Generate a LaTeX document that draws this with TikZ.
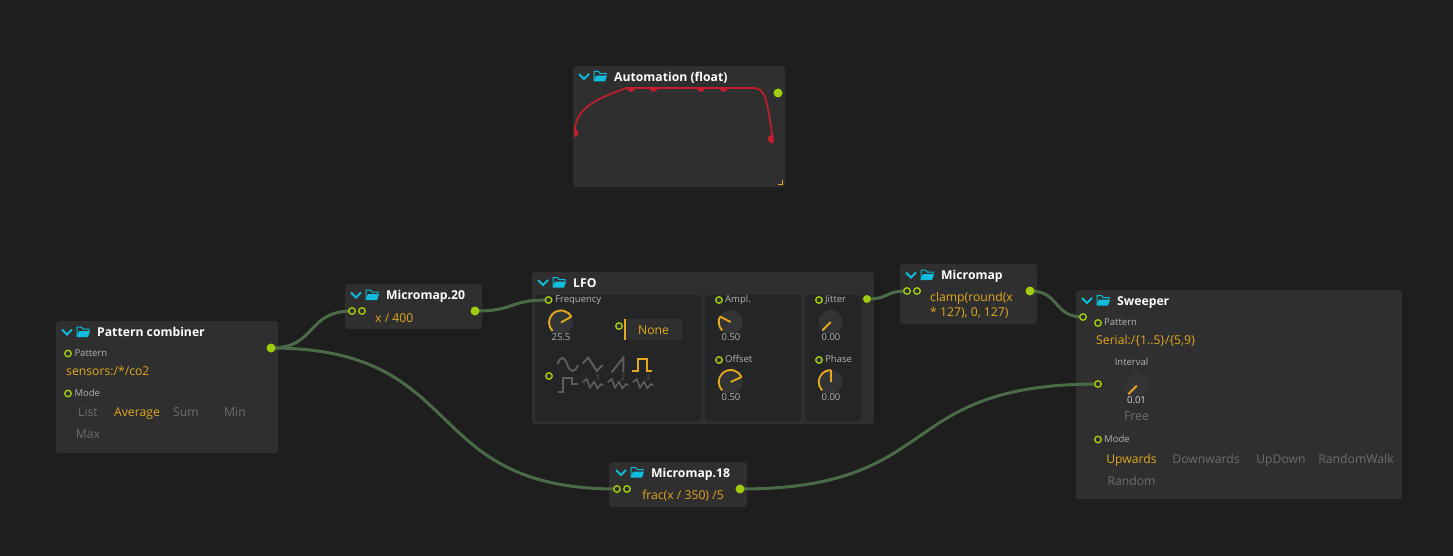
\documentclass[tikz,border=0pt]{standalone}
\usepackage{fontspec}
\setmainfont{Open Sans}
\usetikzlibrary{backgrounds}
\definecolor{canvas}{HTML}{1E1E1E}
\definecolor{panelc}{HTML}{2F2F2F}
\definecolor{subc}{HTML}{242526}
\definecolor{cyanc}{HTML}{12BCDC}
\definecolor{yelc}{HTML}{E3A81E}
\definecolor{portc}{HTML}{A0CC0E}
\definecolor{wirec}{HTML}{4B6B48}
\definecolor{greyc}{HTML}{6E6E6E}
\definecolor{lablc}{HTML}{B4B4B4}
\definecolor{iconc}{HTML}{5E5E5E}
\definecolor{knobc}{HTML}{333435}
\definecolor{redc}{HTML}{C41E2E}
\newcommand{\fsz}[1]{\fontsize{#1}{#1}\selectfont}
\tikzset{
  panel/.style={anchor=north west,fill=panelc,rounded corners=3pt,inner sep=0pt,draw=none},
  subpanel/.style={anchor=north west,fill=subc,rounded corners=3pt,inner sep=0pt,draw=none},
  inport/.style={circle,draw=portc,fill=panelc,line width=1.4pt,minimum size=6.5pt,inner sep=0pt},
  outport/.style={circle,fill=portc,minimum size=9pt,inner sep=0pt},
  wire/.style={draw=wirec,line width=3pt},
  ttl/.style={anchor=west,inner sep=0pt,text=white,font=\fsz{12.2}\bfseries,text height=9pt,text depth=3pt,yshift=-1.8pt},
  lbl/.style={anchor=west,inner sep=0pt,text=lablc,font=\fsz{9.5},text height=7pt,text depth=2pt,yshift=-1.2pt},
  val/.style={anchor=west,inner sep=0pt,text=yelc,font=\fsz{12.2},text height=9pt,text depth=3pt,yshift=-1.8pt},
  cval/.style={val,anchor=center},
  off/.style={cval,text=greyc},
  kval/.style={anchor=center,inner sep=0pt,text=lablc,font=\fsz{9.5},text height=7pt,text depth=2pt,yshift=-1pt},
  knobarc/.style={draw=yelc,line width=1.9pt},
  waveoff/.style={draw=iconc,line width=1.9pt},
  waveon/.style={draw=yelc,line width=1.9pt},
  small/.style={anchor=center,inner sep=0pt,text=iconc,font=\fsz{7.5}}
}
% header: left x, centre y, title, node name
\newcommand{\headbar}[4]{%
  \draw[cyanc,line width=1.9pt] (#1+6,#2-2.5) -- (#1+11,#2+2.5) -- (#1+16,#2-2.5);
  \draw[cyanc,line width=1pt] (#1+33,#2-1.5) -- (#1+33,#2-3) -- (#1+27,#2-3) -- (#1+25.5,#2-5) -- (#1+21,#2-5) -- (#1+21,#2+4);
  \fill[cyanc] (#1+23,#2-.8) -- (#1+34,#2-.8) -- (#1+32,#2+5) -- (#1+20.5,#2+5) -- cycle;
  \node[ttl] (#4) at (#1+41,#2) {#3};
}
% knob: centre x, centre y, end angle, name
\newcommand{\knobdial}[4]{%
  \node[circle,fill=knobc,minimum size=24pt,inner sep=0pt] (#4) at (#1,#2) {};
  \draw[knobarc] (#4.center) ++(-225:12) arc[start angle=-225,end angle=-#3,radius=12];
  \draw[knobarc] (#4.center) -- ++(-#3:12);
}
\newcommand{\zigzag}[1]{%
  \draw[waveoff,line width=1.6pt] (#1+582.7,382.3) -- (#1+586.7,379) -- (#1+590,387.7) -- (#1+594,381.7) -- (#1+597.3,388.3) -- (#1+601,384) -- (#1+603.3,385.5);
}
\begin{document}
\begin{tikzpicture}[x=1pt,y=-1pt]
\useasboundingbox (0,0) rectangle (1453,556);
% ports on main layer
\node[outport] (pcout) at (271,348) {};
\node[inport] (pcpat) at (68,353.5) {};
\node[inport] (pcmode) at (68,393.5) {};
\node[inport] (mta) at (352,311) {};
\node[inport] (mtb) at (362,311) {};
\node[outport] (mtout) at (475,311) {};
\node[inport] (lfreq) at (548.5,300) {};
\node[inport] (lnone) at (619,326) {};
\node[inport] (lwave) at (549,376) {};
\node[inport] (lampl) at (719,300) {};
\node[inport] (loffs) at (719,360) {};
\node[inport] (ljit) at (819,300) {};
\node[inport] (lphase) at (819,360) {};
\node[outport,minimum size=8pt] (lout) at (867,299) {};
\node[inport] (mma) at (907,291) {};
\node[inport] (mmb) at (917,291) {};
\node[outport] (mmout) at (1030,291) {};
\node[inport] (swin) at (1083,317) {};
\node[inport] (swpat) at (1098,323) {};
\node[inport] (swint) at (1098,384) {};
\node[inport] (swmode) at (1098,439.5) {};
\node[inport] (mea) at (617,489) {};
\node[inport] (meb) at (627,489) {};
\node[outport] (meout) at (740,489) {};
\node[outport] (auout) at (778,93) {};
\begin{scope}[on background layer]
\fill[canvas] (0,0) rectangle (1453,556);
\node[panel,minimum width=212pt,minimum height=121pt] (autop) at (573,66) {};
\node[panel,minimum width=222pt,minimum height=132pt] (pcp) at (56,321) {};
\node[panel,minimum width=137pt,minimum height=45pt] (mtp) at (345,284) {};
\node[panel,minimum width=342pt,minimum height=152pt] (lfop) at (532,272) {};
\node[subpanel,minimum width=166pt,minimum height=126pt] (lfoa) at (535,295) {};
\node[subpanel,minimum width=96pt,minimum height=126pt] (lfob) at (705,295) {};
\node[subpanel,minimum width=56pt,minimum height=126pt] (lfoc) at (805,295) {};
\node[panel,minimum width=137pt,minimum height=60pt] (mmp) at (900,264) {};
\node[panel,minimum width=326pt,minimum height=209pt] (swp) at (1076,290) {};
\node[panel,minimum width=138pt,minimum height=45pt] (mep) at (609,462) {};
% connectors
\draw[wire] (pcout.center) .. controls +(46,0) and +(-46,0) .. (mta.center);
\draw[wire] (pcout.center) .. controls +(200,0) and +(-200,0) .. (mea.center);
\draw[wire] (mtout.center) .. controls +(42,0) and +(-42,0) .. (lfreq.center);
\draw[wire] (lout.center) .. controls +(23,0) and +(-23,0) .. (mma.center);
\draw[wire] (mmout.center) .. controls +(30,0) and +(-30,0) .. (swin.center);
\draw[wire] (meout.center) .. controls +(206,0) and +(-206,0) .. (swint.center);
\end{scope}
% headers
\headbar{573}{76.5}{Automation (float)}{autot}
\headbar{56}{332}{Pattern combiner}{pct}
\headbar{345}{295}{Micromap.20}{mtt}
\headbar{532}{282.5}{LFO}{lfot}
\headbar{900}{275}{Micromap}{mmt}
\headbar{1076}{300.5}{Sweeper}{swt}
\headbar{610}{472.5}{Micromap.18}{met}
% automation curve
\begin{scope}
\clip (574.3,87.7) rectangle (773.4,150);
\foreach \px/\py [count=\i] in {574.3/133,631/87.7,653.5/87.7,701/87.7,723.5/87.7,772/139} {
  \fill[redc] (\px,\py) circle[radius=4.2];
}
\end{scope}
\draw[redc,line width=1.7pt] (574.6,133) .. controls (574.6,108) and (596,99) .. (626.5,88) -- (753,88) .. controls (766,88) and (767,100) .. (773,141);
\coordinate (ra) at (778.3,184.3);
\coordinate (rb) at (782.7,184.3);
\coordinate (rc) at (782.7,180);
\draw[yelc,line width=.9pt] (ra) -- (rb) -- (rc);
% pattern combiner
\node[lbl] (t1) at (74.3,353) {Pattern};
\node[val] (t2) at (66,370.5) {sensors:/*/co2};
\node[lbl] (t3) at (74.3,393) {Mode};
\node[off] (t4) at (88,411.5) {List};
\node[cval] (t5) at (137,411.5) {Average};
\node[off] (t6) at (186,411.5) {Sum};
\node[off] (t7) at (235,411.5) {Min};
\node[off] (t8) at (88,433.5) {Max};
% micromaps
\node[val] (t9) at (375,317.5) {x / 400};
\node[val] (t10) at (930,296.5) {clamp(round(x};
\node[val] (t11) at (930,311.5) {* 127), 0, 127)};
\node[cval] (t12) at (683,495) {frac(x / 350) /5};
% LFO
\node[lbl] (t13) at (555,299) {Frequency};
\node[lbl] (t14) at (725,299) {Ampl.};
\node[lbl] (t15) at (725,358.5) {Offset};
\node[lbl] (t16) at (825,299) {Jitter};
\node[lbl] (t17) at (825,358.5) {Phase};
\knobdial{561}{322.5}{30}{k1}
\knobdial{730.7}{322}{153}{k2}
\knobdial{730.7}{382}{25}{k3}
\knobdial{830.7}{322}{225}{k4}
\knobdial{830.7}{382}{90}{k5}
\node[kval] (t18) at (561,336.5) {25.5};
\node[kval] (t19) at (731,336.5) {0.50};
\node[kval] (t20) at (731,396.5) {0.50};
\node[kval] (t21) at (831,336.5) {0.00};
\node[kval] (t22) at (831,396.5) {0.00};
\node[anchor=north west,fill=panelc,minimum width=57pt,minimum height=21pt,inner sep=0pt] (nonebox) at (625,319) {};
\draw[yelc,line width=1.6pt] (nonebox.north west) -- (nonebox.south west);
\node[cval] (t23) at (653.5,329.5) {None};
% waveforms
\draw[waveoff] (557.7,364) .. controls (560,356) and (564,356) .. (567,364) .. controls (570,373) and (575,373) .. (578,365);
\draw[waveoff] (582.7,363.3) -- (588.3,357.7) -- (596.7,371) -- (602.7,365);
\draw[waveoff] (611.7,372.3) -- (623.3,357.7) -- (623.3,372.3);
\draw[waveon] (632.3,371) -- (638.3,371) -- (638.3,359) -- (646.7,359) -- (646.7,371) -- (652.3,371);
\draw[waveoff] (557.7,392.3) -- (563.3,392.3) -- (563.3,378.3) -- (572.3,378.3) -- (572.3,384.3) -- (578.3,384.3);
\zigzag{0}
\zigzag{25}
\zigzag{50}
\node[small] (n1) at (598,378) {1};
\node[small] (n2) at (623,378) {2};
\node[small] (n3) at (648,378) {3};
% sweeper
\node[lbl] (t24) at (1104,322) {Pattern};
\node[val] (t25) at (1096,339.5) {Serial:/\{1..5\}/\{5,9\}};
\node[kval] (t26) at (1131.5,361.5) {Interval};
\knobdial{1136.7}{385.7}{225}{k6}
\node[kval,text=white!85!black] (t27) at (1136.5,399.5) {0.01};
\node[off] (t28) at (1136.5,415.5) {Free};
\node[lbl] (t29) at (1104,438.5) {Mode};
\node[cval] (t30) at (1131.5,458.5) {Upwards};
\node[off] (t31) at (1206,458.5) {Downwards};
\node[off] (t32) at (1281,458.5) {UpDown};
\node[off] (t33) at (1356,458.5) {RandomWalk};
\node[off] (t34) at (1131.5,480.5) {Random};
\end{tikzpicture}
\end{document}
